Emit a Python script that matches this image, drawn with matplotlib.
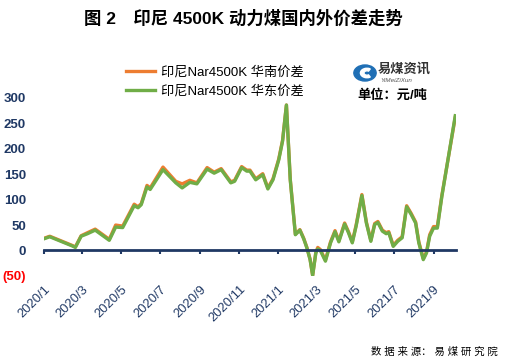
import matplotlib
matplotlib.use('Agg')
import matplotlib.pyplot as plt
from matplotlib.patches import Circle, Wedge
from datetime import datetime

plt.rcParams['font.family'] = ['Liberation Sans', 'Noto Sans CJK SC']

# price spread data (yuan/ton)
dates = ["2020-01-01", "2020-01-10", "2020-02-14", "2020-02-19", "2020-02-28",
         "2020-03-09", "2020-03-21", "2020-04-12", "2020-04-22", "2020-05-03",
         "2020-05-21", "2020-05-27", "2020-06-01", "2020-06-10", "2020-06-15",
         "2020-07-05", "2020-07-25", "2020-08-04", "2020-08-16", "2020-08-27",
         "2020-09-12", "2020-09-23", "2020-10-04", "2020-10-19", "2020-10-25",
         "2020-11-05", "2020-11-13", "2020-11-18", "2020-11-27", "2020-12-08",
         "2020-12-16", "2020-12-24", "2021-01-02", "2021-01-08", "2021-01-14",
         "2021-01-20", "2021-01-28", "2021-02-04", "2021-02-10", "2021-02-15",
         "2021-02-20", "2021-02-24", "2021-03-01", "2021-03-04", "2021-03-08",
         "2021-03-16", "2021-03-24", "2021-03-31", "2021-04-06", "2021-04-15",
         "2021-04-21", "2021-04-27", "2021-05-03", "2021-05-12", "2021-05-19",
         "2021-05-26", "2021-06-01", "2021-06-06", "2021-06-13", "2021-06-19",
         "2021-06-23", "2021-06-30", "2021-07-07", "2021-07-14", "2021-07-21",
         "2021-07-28", "2021-08-04", "2021-08-09", "2021-08-16", "2021-08-21",
         "2021-08-26", "2021-09-01", "2021-09-07", "2021-09-14", "2021-10-05"]

east = [23, 27, 9, 6, 28, 33, 40, 20, 46, 45,
        88, 84, 90, 125, 120, 159, 133, 123, 134, 131,
        160, 152, 159, 133, 136, 163, 156, 156, 139, 149,
        121, 139, 178, 215, 286, 139, 31, 40, 23, 5,
        -18, -49, -5, 3, 0, -21, 15, 37, 17, 52,
        35, 15, 48, 108, 54, 18, 51, 55, 38, 33,
        35, 8, 18, 25, 86, 71, 54, 15, -18, -5,
        28, 44, 44, 106, 265]

south = [24, 28, 10, 7, 29, 35, 42, 22, 50, 48,
         91, 86, 92, 128, 123, 164, 136, 131, 138, 133,
         163, 154, 161, 135, 138, 165, 158, 158, 141, 151,
         123, 141, 180, 217, 286, 140, 32, 41, 24, 6,
         -17, -49, -3, 6, 2, -19, 17, 39, 19, 54,
         37, 17, 50, 110, 56, 20, 53, 57, 40, 35,
         37, 10, 20, 27, 88, 73, 56, 17, -16, -3,
         31, 47, 47, 108, 262]

tick_labels = ["2020/1", "2020/3", "2020/5", "2020/7", "2020/9", "2020/11",
               "2021/1", "2021/3", "2021/5", "2021/7", "2021/9"]

x = [datetime.strptime(d, "%Y-%m-%d") for d in dates]
tick_dates = [datetime.strptime(t + "/1", "%Y/%m/%d") for t in tick_labels]

navy = '#1F3864'
fig = plt.figure(figsize=(5.06, 3.64), dpi=100)
ax = fig.add_axes([0.087, 0.242, 0.814, 0.489])

ax.plot(x, south, color='#ED7D31', lw=2.4, solid_joinstyle='round', label='印尼Nar4500K 华南价差')
ax.plot(x, east, color='#70AD47', lw=2.4, solid_joinstyle='round', label='印尼Nar4500K 华东价差')

ax.set_xlim(datetime(2020, 1, 1), datetime(2021, 10, 6))
ax.set_ylim(-50, 300)

for s in ['top', 'right', 'left']:
    ax.spines[s].set_visible(False)
ax.spines['bottom'].set_position(('data', 0))
ax.spines['bottom'].set_color(navy)
ax.spines['bottom'].set_linewidth(2)
ax.set_xticks(tick_dates)
ax.tick_params(axis='x', direction='out', length=3, width=1.5, color=navy, labelbottom=False)
for d, t in zip(tick_dates, tick_labels):
    ax.text(d, -0.04, t, transform=ax.get_xaxis_transform(), rotation=45,
            ha='right', va='top', rotation_mode='anchor', fontsize=9.3, color=navy)

yt = [-50, 0, 50, 100, 150, 200, 250, 300]
ax.set_yticks(yt)
ax.set_yticklabels(["(50)" if v < 0 else str(v) for v in yt], fontsize=9.5, fontweight='bold')
ax.tick_params(axis='y', length=0, pad=13)
for lab, v in zip(ax.get_yticklabels(), yt):
    lab.set_color('#FF0000' if v < 0 else navy)

fig.text(0.48, 0.95, '图 2　印尼 4500K 动力煤国内外价差走势', ha='center', va='center',
         fontsize=12.5, fontweight='bold')

ax.legend(loc='upper left', bbox_to_anchor=(0.2, 1.178), frameon=False, fontsize=9.5,
          handlelength=2.2, handletextpad=0.4, labelspacing=0.45, borderpad=0,
          borderaxespad=0)

# logo
fig.patches.append(Circle((365 / 506, 1 - 73 / 364), 0.022, transform=fig.transFigure,
                          color='#1F6FB5'))
fig.patches.append(Wedge((367 / 506, 1 - 73 / 364), 0.013, 60, 300, width=0.007,
                         transform=fig.transFigure, color='white'))
fig.text(378 / 506, 1 - 69 / 364, '易煤资讯', fontsize=9.5, fontweight='bold', color='#333333',
         va='center')
fig.text(380 / 506, 1 - 80 / 364, 'YiMeiZiXun', fontsize=4.5, color='#555555', va='center',
         fontstyle='italic')
fig.text(392 / 506, 1 - 96 / 364, '单位：元/吨', fontsize=9.5, fontweight='bold', ha='center',
         va='center')

fig.text(498 / 506, 1 - 352 / 364, '数 据 来 源： 易 煤 研 究 院', fontsize=7.5, ha='right',
         va='center')

fig.savefig('out.png', dpi=100)
plt.close()
